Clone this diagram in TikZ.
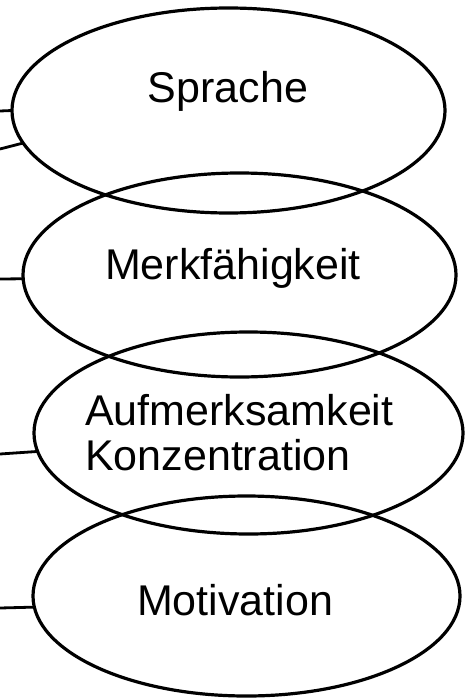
\documentclass[tikz,border=0pt]{standalone}
\usepackage{fontspec}
\setmainfont{Liberation Sans}
\usetikzlibrary{shapes.geometric}
\begin{document}
\begin{tikzpicture}[x=1pt,y=-1pt,
  oval/.style={draw,ellipse,line width=3.2pt,inner sep=0pt,outer sep=0pt},
  conn/.style={line width=2.8pt},
  lbl/.style={font=\fontsize{43}{45}\selectfont,inner sep=0pt}]
\useasboundingbox (0,0) rectangle (464,698);
\node[oval,minimum width=433pt,minimum height=205pt] (e1) at (228.5,110.5) {};
\node[oval,minimum width=433pt,minimum height=204pt] (e2) at (239.5,275) {};
\node[oval,minimum width=429pt,minimum height=202pt] (e3) at (248.5,433) {};
\node[oval,minimum width=427pt,minimum height=200pt] (e4) at (246.5,596) {};
\node[lbl] (t1) at (228,91) {Sprache};
\node[lbl] (t2) at (233,268) {Merkfähigkeit};
\node[lbl,align=left,anchor=west] (t3) at (85,433) {Aufmerksamkeit\\Konzentration};
\node[lbl] (t4) at (235,600) {Motivation};
\coordinate (c1) at (0,111);
\coordinate (c2) at (0,149);
\coordinate (c3) at (0,279);
\coordinate (c4) at (0,454);
\coordinate (c5) at (0,608);
\draw[conn] (c1) -- (e1.west);
\draw[conn] (c2) -- (e1.189);
\draw[conn] (c3) -- (e2.181);
\draw[conn] (c4) -- (e3.185.6);
\draw[conn] (c5) -- (e4.183);
\end{tikzpicture}
\end{document}
